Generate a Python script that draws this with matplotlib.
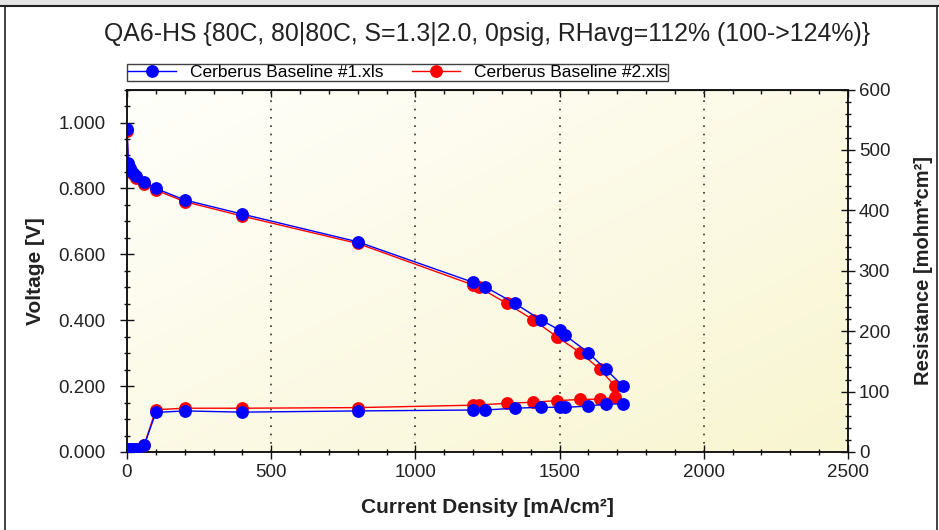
# 분극곡선 + HFR 저항 (두 개 파일 비교)
import matplotlib.pyplot as plt
import numpy as np
from matplotlib.ticker import MultipleLocator, FormatStrFormatter

plt.rcParams["font.family"] = ["Liberation Sans", "DejaVu Sans"]

# --- 데이터: Cerberus Baseline #1 ---
i1 = [0, 5, 10, 20, 30, 60, 100, 200, 400, 800,
      1200, 1240, 1345, 1435, 1500, 1520, 1600, 1660, 1720]
v1 = [0.980, 0.878, 0.862, 0.848, 0.838, 0.820, 0.800, 0.765, 0.722, 0.638,
      0.515, 0.502, 0.451, 0.401, 0.370, 0.354, 0.301, 0.251, 0.200]
r1 = [5, 5, 5, 5, 5, 11.5, 65.5, 68, 66, 68,
      69.5, 69.5, 72.5, 74, 74, 74, 76, 79.5, 79.5]

# --- 데이터: Cerberus Baseline #2 ---
i2 = [0, 5, 10, 20, 30, 60, 100, 200, 400, 800,
      1200, 1220, 1317, 1409, 1490, 1571, 1640, 1692]
v2 = [0.975, 0.873, 0.857, 0.843, 0.833, 0.814, 0.795, 0.760, 0.716, 0.633,
      0.507, 0.500, 0.451, 0.401, 0.350, 0.302, 0.251, 0.200]
r2 = [5, 5, 5, 5, 5, 12, 70, 72.5, 72.5, 73.5,
      77.5, 78, 80.5, 82.5, 85, 87, 87.5, 90.5]

labels = ["Cerberus Baseline #1.xls", "Cerberus Baseline #2.xls"]
title = "QA6-HS {80C, 80|80C, S=1.3|2.0, 0psig, RHavg=112% (100->124%)}"

fig = plt.figure(figsize=(9.39, 5.30), dpi=100)
fig.patch.set_facecolor("white")

# 창 테두리
fig.patches.append(plt.Rectangle((0, 1 - 5 / 530), 1, 5 / 530, transform=fig.transFigure,
                                 facecolor="#e4e4e4", edgecolor="none", zorder=0))
fig.add_artist(plt.Line2D([0, 1], [1 - 5.5 / 530] * 2, transform=fig.transFigure, color="#222", lw=1.5))
fig.add_artist(plt.Line2D([5 / 939] * 2, [0, 1 - 5.5 / 530], transform=fig.transFigure, color="#222", lw=1.2))
fig.add_artist(plt.Line2D([936.5 / 939] * 2, [0, 1 - 5.5 / 530], transform=fig.transFigure, color="#222", lw=1.2))

ax = fig.add_axes([127 / 939, 1 - 452 / 530, 721 / 939, 362.4 / 530])
ax2 = ax.twinx()

# 배경 그라데이션 (연한 노란색)
gx, gy = np.meshgrid(np.linspace(0, 1, 200), np.linspace(1, 0, 120))
t = (gx + (1 - gy)) / 2
c0 = np.array([1.0, 1.0, 0.985])
c1 = np.array([0.975, 0.962, 0.82])
grad = c0 + (c1 - c0) * t[..., None]
ax.imshow(grad, extent=[0, 1, 0, 1], transform=ax.transAxes, aspect="auto", zorder=0)

ax.set_xlim(0, 2500)
ax.set_ylim(0, 1.1)
ax2.set_ylim(0, 600)

ms = 8.2
# 전압 곡선
ax.plot(i2, v2, color="#ff0000", marker="o", markersize=ms, lw=1.0, label=labels[1], zorder=3)
ax.plot(i1, v1, color="#0000ff", marker="o", markersize=ms, lw=1.0, label=labels[0], zorder=4)

# 저항 곡선
ax2.plot(i2, r2, color="#ff0000", marker="o", markersize=ms, lw=1.0, zorder=3)
ax2.plot(i1, r1, color="#0000ff", marker="o", markersize=ms, lw=1.0, zorder=4)

# 눈금
ax.xaxis.set_major_locator(MultipleLocator(500))
ax.xaxis.set_minor_locator(MultipleLocator(100))
ax.yaxis.set_major_locator(MultipleLocator(0.2))
ax.yaxis.set_minor_locator(MultipleLocator(0.05))
ax.yaxis.set_major_formatter(FormatStrFormatter("%.3f"))
ax2.yaxis.set_major_locator(MultipleLocator(100))
ax2.yaxis.set_minor_locator(MultipleLocator(20))

for a in (ax, ax2):
    a.tick_params(which="major", direction="inout", length=9.5, width=1, colors="#111",
                  labelsize=13.5, labelcolor="#222")
    a.tick_params(which="minor", direction="inout", length=5, width=1, colors="#111")
    for s in a.spines.values():
        s.set_color("#111")
        s.set_linewidth(1.1)
ax.tick_params(axis="y", which="major", pad=10.5)
ax.tick_params(axis="x", which="major", pad=4)
ax2.tick_params(axis="y", which="major", pad=3)

top = ax.secondary_xaxis("top")
top.xaxis.set_major_locator(MultipleLocator(500))
top.xaxis.set_minor_locator(MultipleLocator(100))
top.tick_params(which="major", direction="in", length=5, width=1, colors="#111", labeltop=False)
top.tick_params(which="minor", direction="in", length=3, width=1, colors="#111")

# 세로 점선 격자
ax.grid(axis="x", which="major", color="#333", linestyle=(0, (1, 4)), linewidth=1.2)
ax.set_axisbelow(False)

ax.set_xlabel("Current Density [mA/cm²]", fontsize=15, fontweight="bold", color="#222", labelpad=12)
ax.set_ylabel("Voltage [V]", fontsize=15, fontweight="bold", color="#222", labelpad=10)
ax2.set_ylabel("Resistance [mohm*cm²]", fontsize=14.5, fontweight="bold", color="#222", labelpad=17)

fig.text(487 / 939, 1 - 34 / 530, title, fontsize=17.9, color="#222", ha="center", va="center")

# 범례
h, l = ax.get_legend_handles_labels()
leg = ax.legend(h[::-1], l[::-1], ncol=2, loc="lower left", bbox_to_anchor=(0, 1.025),
                borderaxespad=0, fontsize=12.5, frameon=True, fancybox=False,
                handlelength=2.8, handletextpad=0.8, columnspacing=1.6,
                borderpad=0.05, edgecolor="#111")
leg.get_frame().set_linewidth(1.0)

fig.savefig("out.png", dpi=100)
